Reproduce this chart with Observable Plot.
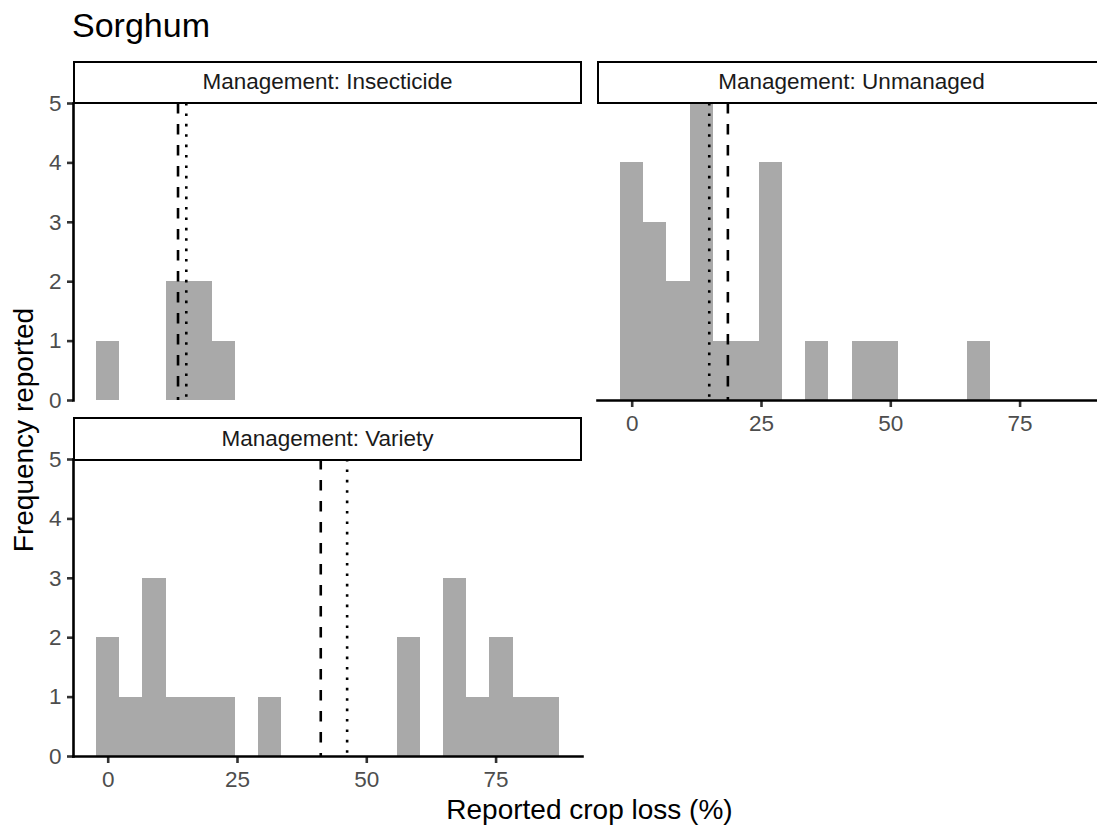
<!DOCTYPE html>
<html><head><meta charset="utf-8">
<script src="https://cdn.jsdelivr.net/npm/d3@7"></script>
<script src="https://cdn.jsdelivr.net/npm/@observablehq/plot@0.6"></script>
<style>
html,body{margin:0;padding:0;background:#fff;overflow:hidden}
#root{position:relative;width:1097px;height:826px;overflow:hidden;background:#fff;font-family:"Liberation Sans",Arial,Helvetica,sans-serif}
.strip{position:absolute;box-sizing:border-box;border:2.6px solid #000;background:#fff;display:flex;align-items:center;justify-content:center;font-size:22.5px;color:#1A1A1A;line-height:1;white-space:nowrap}
.abs{position:absolute;white-space:nowrap;line-height:1}
#root svg{overflow:visible;position:absolute;background:transparent}
</style></head><body><div id="root"></div>
<script>
// ---- data ----
const chartTitle = "Sorghum";
const xTitle = "Reported crop loss (%)";
const yTitle = "Frequency reported";
const panelNames = ["Management: Insecticide", "Management: Unmanaged", "Management: Variety"];
const binEdges = [-2.24, 2.24, 6.71, 11.18, 15.66, 20.13, 24.61, 29.08, 33.55, 38.03, 42.5, 46.97, 51.45, 55.92, 60.39, 64.87, 69.34, 73.82, 78.29, 82.76, 87.24];
const insecticideCounts = [1, 0, 0, 2, 2, 1, 0, 0, 0, 0, 0, 0, 0, 0, 0, 0, 0, 0, 0, 0];
const unmanagedCounts   = [4, 3, 2, 5, 1, 1, 4, 0, 1, 0, 1, 1, 0, 0, 0, 1, 0, 0, 0, 0];
const varietyCounts     = [2, 1, 3, 1, 1, 1, 0, 1, 0, 0, 0, 0, 0, 2, 0, 3, 1, 2, 1, 1];
const meanValues   = [13.5, 18.5, 41.1];   // dashed lines
const medianValues = [15.1, 14.9, 46.2];   // dotted lines
const xTicks = [0, 25, 50, 75];
const yTicks = [0, 1, 2, 3, 4, 5];
const xDomain = [-6.71, 91.71];
const yDomain = [0, 5];

// ---- layout ----
const panelW = 509, panelH = 297;
const colX = [73, 597], rowY = [102.7, 459.4];
const stripH = 43.5;
const lw = 2.6;
const root = document.getElementById("root");

const panels = [
  {name: panelNames[0], counts: insecticideCounts, mean: meanValues[0], median: medianValues[0], col: 0, row: 0, yAxis: true, xAxis: false},
  {name: panelNames[1], counts: unmanagedCounts, mean: meanValues[1], median: medianValues[1], col: 1, row: 0, yAxis: false, xAxis: true},
  {name: panelNames[2], counts: varietyCounts, mean: meanValues[2], median: medianValues[2], col: 0, row: 1, yAxis: true, xAxis: true}
];

const m = {top: 10, right: 10, bottom: 50, left: 60};
const fmt = d3.format("d");

for (const p of panels) {
  const bins = p.counts.map((c, i) => ({x1: binEdges[i], x2: binEdges[i + 1], count: c})).filter(d => d.count > 0);
  const marks = [
    Plot.rectY(bins, {x1: "x1", x2: "x2", y: "count", fill: "#A9A9A9", shapeRendering: "crispEdges"}),
    Plot.ruleX([p.mean], {stroke: "#000", strokeWidth: lw, strokeDasharray: "10.5,10.5"}),
    Plot.ruleX([p.median], {stroke: "#000", strokeWidth: lw, strokeDasharray: "2.6,7.8"})
  ];
  if (p.yAxis) {
    marks.push(Plot.axisY(yTicks, {tickSize: 6, tickPadding: 6, tickFormat: fmt, stroke: "#333333", strokeWidth: lw, fill: "#4D4D4D", fontSize: 22.5, label: null}));
    marks.push(Plot.frame({anchor: "left", stroke: "#000", strokeWidth: lw}));
  }
  if (p.xAxis) {
    marks.push(Plot.axisX(xTicks, {tickSize: 7, tickPadding: 8, tickFormat: fmt, stroke: "#333333", strokeWidth: lw, fill: "#4D4D4D", fontSize: 22.5, label: null}));
    marks.push(Plot.frame({anchor: "bottom", stroke: "#000", strokeWidth: lw}));
  }
  const xOpt = {domain: xDomain};
  const yOpt = {domain: yDomain};
  if (!p.xAxis) xOpt.axis = null;
  if (!p.yAxis) yOpt.axis = null;
  const svg = Plot.plot({
    width: m.left + panelW + m.right,
    height: m.top + panelH + m.bottom,
    marginTop: m.top, marginRight: m.right, marginBottom: m.bottom, marginLeft: m.left,
    x: xOpt, y: yOpt,
    style: {fontFamily: '"Liberation Sans", Arial, Helvetica, sans-serif', fontSize: "22.5px", background: "transparent", overflow: "visible"},
    marks
  });
  svg.style.left = (colX[p.col] - m.left) + "px";
  svg.style.top = (rowY[p.row] - m.top) + "px";
  root.appendChild(svg);

  const strip = document.createElement("div");
  strip.className = "strip";
  strip.style.left = colX[p.col] + "px";
  strip.style.top = (rowY[p.row] - stripH + lw / 2) + "px";
  strip.style.width = panelW + "px";
  strip.style.height = stripH + "px";
  strip.textContent = p.name;
  root.appendChild(strip);
}

// title
const t = document.createElement("div");
t.className = "abs";
t.style.left = "72px"; t.style.top = "7.8px"; t.style.fontSize = "34px"; t.style.color = "#000";
t.textContent = chartTitle;
root.appendChild(t);

// x title
const xt = document.createElement("div");
xt.className = "abs";
xt.style.fontSize = "28px"; xt.style.color = "#000";
xt.style.left = ((colX[0] + colX[1] + panelW) / 2) + "px";
xt.style.top = (820 - 0.8465 * 28) + "px";
xt.style.transform = "translateX(-50%)";
xt.textContent = xTitle;
root.appendChild(xt);

// y title
const yt = document.createElement("div");
yt.className = "abs";
yt.style.fontSize = "28px"; yt.style.color = "#000";
yt.style.left = "23.5px";
yt.style.top = ((rowY[0] + rowY[1] + panelH) / 2) + "px";
yt.style.transform = "translate(-50%,-50%) rotate(-90deg)";
yt.textContent = yTitle;
root.appendChild(yt);
</script>
</body></html>
